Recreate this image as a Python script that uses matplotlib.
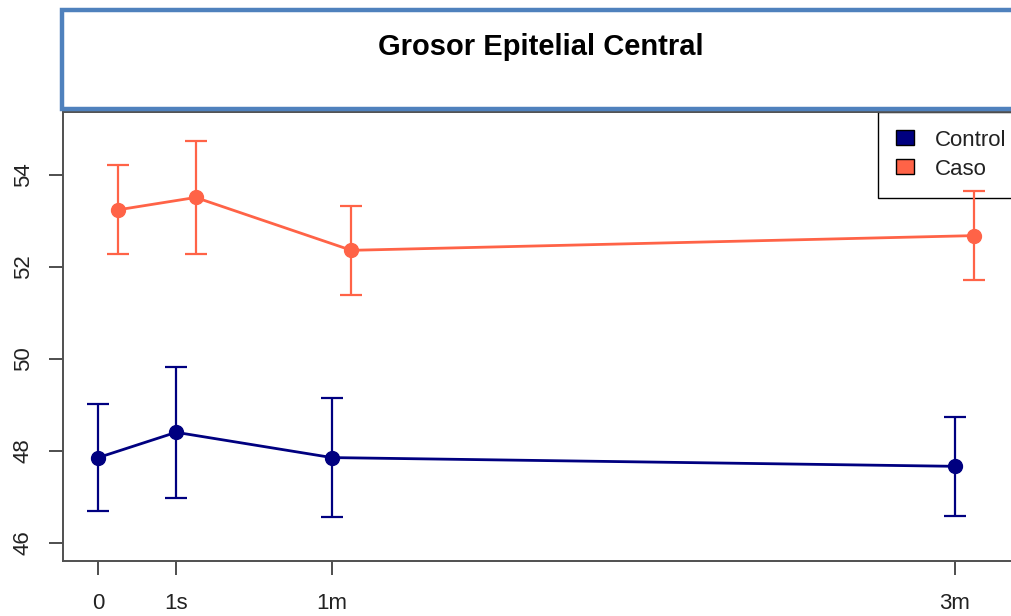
import matplotlib
matplotlib.use("Agg")
import matplotlib.pyplot as plt
from matplotlib.patches import Rectangle, Patch

plt.rcParams['font.family'] = ['Liberation Sans', 'DejaVu Sans']

# Data
time_pos = [0, 1, 3, 11]
time_labels = ["0", "1s", "1m", "3m"]
control_mean = [47.85, 48.40, 47.85, 47.66]
control_err = [1.16, 1.43, 1.29, 1.08]
caso_mean = [53.24, 53.51, 52.36, 52.68]
caso_err = [0.97, 1.22, 0.97, 0.97]
y_ticks = [46, 48, 50, 52, 54]

control_color = "#000080"
caso_color = "#FF6347"
caso_shift = 0.25

fig = plt.figure(figsize=(10.11, 6.16), dpi=100)
ax = fig.add_axes([0.0623, 0.0893, 0.940, 0.7289])

caso_x = [t + caso_shift for t in time_pos]

ax.plot(time_pos, control_mean, color=control_color, linewidth=2, zorder=3)
ax.errorbar(time_pos, control_mean, yerr=control_err, fmt='o', color=control_color,
            markersize=10, elinewidth=1.6, capsize=8, capthick=1.6, zorder=4)
ax.plot(caso_x, caso_mean, color=caso_color, linewidth=2, zorder=3)
ax.errorbar(caso_x, caso_mean, yerr=caso_err, fmt='o', color=caso_color,
            markersize=10, elinewidth=1.6, capsize=8, capthick=1.6, zorder=4)

# Axes style (R-like)
ax.set_xlim(-0.453, 11.75)
ax.set_ylim(45.60, 55.37)
ax.set_xticks(time_pos)
ax.set_xticklabels(time_labels)
ax.set_yticks(y_ticks)
ax.set_yticklabels([str(v) for v in y_ticks], rotation=90, va='center')
for s in ax.spines.values():
    s.set_color("#505050")
    s.set_linewidth(1.4)
ax.tick_params(axis='both', direction='out', length=10, width=1.2, color="#303030",
               labelsize=16, labelcolor="#222222")
ax.tick_params(axis='x', pad=13)
ax.tick_params(axis='y', pad=11)

# Legend (drawn under the error bars, as in the original)
handles = [Patch(facecolor=control_color, edgecolor="black", linewidth=1),
           Patch(facecolor=caso_color, edgecolor="black", linewidth=1)]
leg = ax.legend(handles, ["Control", "Caso"], loc='upper left',
                bbox_to_anchor=(878 / 1011, (616 - 112) / 616), bbox_transform=fig.transFigure,
                borderaxespad=0, fontsize=16, handlelength=0.84, handleheight=0.66,
                handletextpad=0.94, borderpad=0.8, labelspacing=0.36,
                fancybox=False, framealpha=1)
leg.get_frame().set_edgecolor("black")
leg.get_frame().set_linewidth(1)
leg.set_zorder(2)
for t in leg.get_texts():
    t.set_color("#222222")

# Title box
fig.add_artist(Rectangle((62 / 1011, (616 - 109) / 616), 1.0, (109 - 10.3) / 616,
                         transform=fig.transFigure, facecolor="white",
                         edgecolor="#4F81BD", linewidth=3.2, zorder=10))
fig.text(540.5 / 1011, 1 - 47 / 616, "Grosor Epitelial Central", ha='center', va='center',
         fontsize=21, fontweight='bold', color="black", zorder=11)

fig.savefig("out.png", dpi=100)
